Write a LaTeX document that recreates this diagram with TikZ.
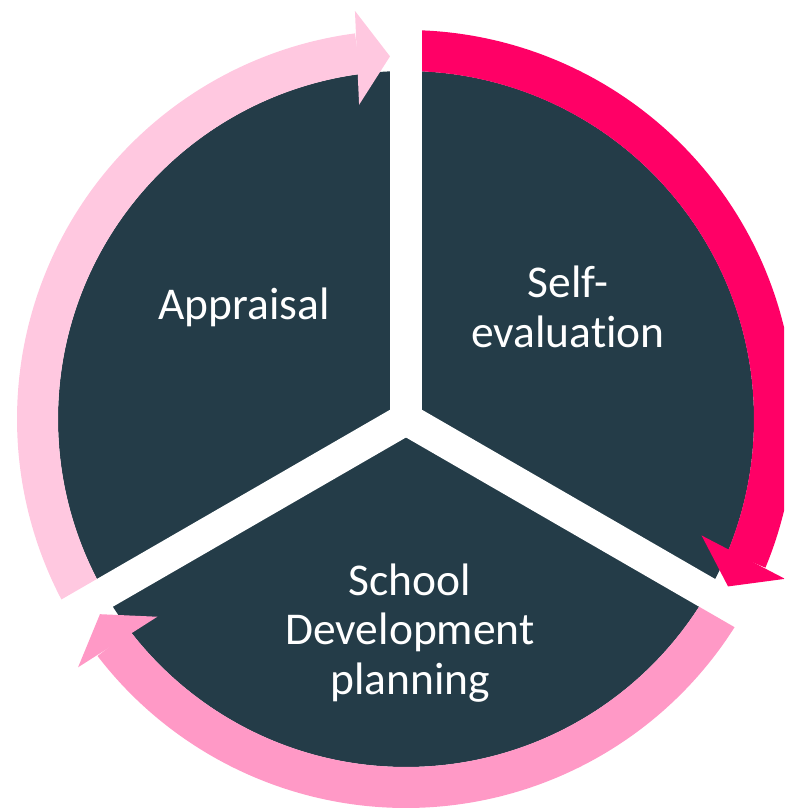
\documentclass[tikz,border=0pt]{standalone}
\usepackage{fontspec}
\setmainfont{Carlito}[Ligatures=NoCommon]
\usetikzlibrary{calc}

\definecolor{slate}{HTML}{243C48}
\definecolor{hotpink}{HTML}{FF0066}
\definecolor{midpink}{HTML}{FF99C6}
\definecolor{palepink}{HTML}{FFC8E0}

% #1 colour, #2 angle of the gap at the tail, #3 angle of the tip
\newcommand{\ringarrow}[3]{%
  \fill[#1] ({#2-2.64}:348) arc[start angle={#2-2.64}, end angle={#3+5}, radius=348]
    -- ({#3+5}:389) arc[start angle={#3+5}, end angle={#2-2.36}, radius=389] -- cycle;
  \fill[#1] (#3:363) -- ($(#3:363)+({#3+90}:33)+(#3:47)$)
    -- ($(#3:363)+({#3+90}:33)+({#3+180}:47)$) -- cycle;
}

\begin{document}
\begin{tikzpicture}[x=1pt, y=1pt,
  stage/.style={text=white, align=center, font=\fontsize{45.5}{49.5}\selectfont},
  gap/.style={white, line width=32pt}]

\clip (-406,-389) rectangle (378,419);

% pie
\fill[slate] (0,0) circle[radius=348];
\begin{scope}
  \clip (0,0) circle[radius=350];
  \draw[gap] (0,0) -- (90:400);
  \draw[gap] (0,0) -- (210:400);
  \draw[gap] (0,0) -- (330:400);
\end{scope}

% arrows round the ring
\ringarrow{hotpink}{90}{-27.47}
\ringarrow{midpink}{-30}{-147.47}
\ringarrow{palepink}{210}{92.53}

\node[stage] (appraisal) at (-162,112) {Appraisal};
\node[stage] (selfeval) at (162,112) {Self-\\evaluation};
\node[stage] (sdp) at (4,-214) {School\\Development\\planning};
\end{tikzpicture}
\end{document}
